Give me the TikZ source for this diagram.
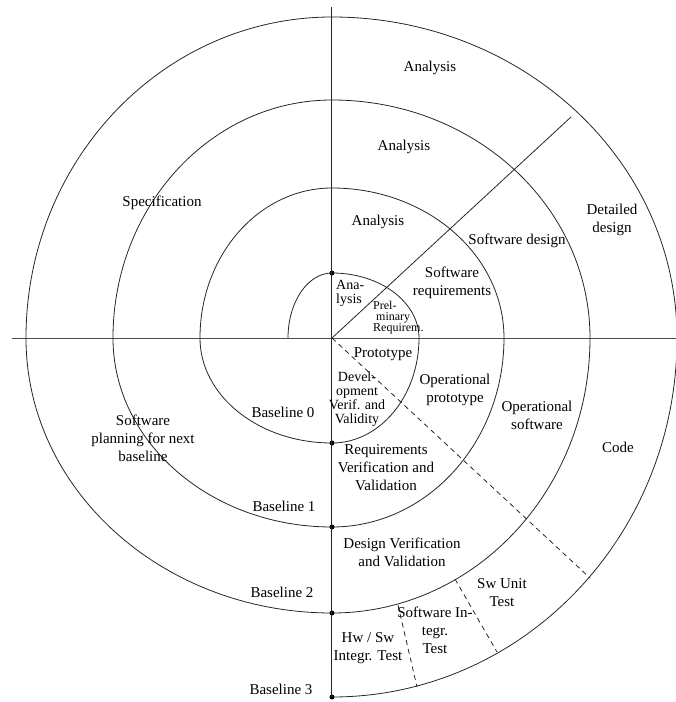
\documentclass[tikz,border=0pt]{standalone}
\usepackage{fontspec}
\setmainfont{Liberation Serif}
\begin{document}
\begin{tikzpicture}[x=1pt,y=1pt,
  line/.style={draw=black!85, line width=0.8pt},
  axisline/.style={draw=black!70, line width=1pt},
  dashline/.style={draw=black!85, line width=0.8pt, dash pattern=on 5pt off 4pt},
  dot/.style={circle, fill=black, inner sep=0pt, minimum size=5pt},
  lbl/.style={font=\fontsize{15}{18}\selectfont, align=center, inner sep=0pt},
  small/.style={font=\fontsize{14}{14}\selectfont, align=center, inner sep=0pt},
  tiny/.style={font=\fontsize{12}{11}\selectfont, align=left, inner sep=0pt}
]
\useasboundingbox (-332,-364) rectangle (344,338);

% axes
\coordinate (O) at (0,0);
\coordinate (west) at (-320,0);
\coordinate (east) at (344,0);
\coordinate (north) at (0,331);
\draw[axisline] (west) -- (east);

% spiral of quarter arcs (left, top, right, bottom radii growing each turn)
\draw[line]
  (-44,0) arc[start angle=180, end angle=90, x radius=44, y radius=65]
          arc[start angle=90, end angle=0, x radius=87, y radius=65]
          arc[start angle=0, end angle=-90, x radius=87, y radius=105]
          arc[start angle=-90, end angle=-180, x radius=132, y radius=105]
          arc[start angle=180, end angle=90, x radius=132, y radius=150]
          arc[start angle=90, end angle=0, x radius=172, y radius=150]
          arc[start angle=0, end angle=-90, x radius=172, y radius=189]
          arc[start angle=-90, end angle=-180, x radius=219, y radius=189]
          arc[start angle=180, end angle=90, x radius=219, y radius=238]
          arc[start angle=90, end angle=0, x radius=258, y radius=238]
          arc[start angle=0, end angle=-90, x radius=258, y radius=275]
          arc[start angle=-90, end angle=-180, x radius=306, y radius=275]
          arc[start angle=180, end angle=90, x radius=306, y radius=321]
          arc[start angle=90, end angle=0, x radius=345, y radius=321]
          arc[start angle=0, end angle=-90, x radius=345, y radius=359];

% baseline points on the vertical axis
\node[dot] (a0) at (0,65) {};
\node[dot] (b0) at (0,-105) {};
\node[dot] (b1) at (0,-189) {};
\node[dot] (b2) at (0,-275) {};
\node[dot] (b3) at (0,-359) {};
\draw[line, line width=1pt] (north) -- (b3.center);

% diagonal separators
\coordinate (ne) at (239,221);
\coordinate (se) at (258,-240);
\draw[line] (O) -- (ne);
\draw[dashline] (O) -- (se);

% test phase separators
\coordinate (t1a) at (66,-267);
\coordinate (t1b) at (85,-349);
\coordinate (t2a) at (123,-241);
\coordinate (t2b) at (165,-314);
\draw[dashline] (t1a) -- (t1b);
\draw[dashline] (t2a) -- (t2b);

% labels
\node[lbl] (an3) at (98,270) {Analysis};
\node[lbl] (an2) at (72,191) {Analysis};
\node[lbl] (an1) at (46,116) {Analysis};
\node[small, align=left, anchor=west] (an0) at (4,45) {Ana-\\lysis};
\node[tiny, anchor=west] (prel) at (41,20) {Prel-\\\ minary\\Requirem.};
\node[lbl] (swreq) at (120,55) {Software\\requirements};
\node[lbl] (swdes) at (185,97) {Software design};
\node[lbl] (detdes) at (280,118) {Detailed\\design};
\node[lbl] (spec) at (-170,135) {Specification};
\node[lbl] (proto) at (51,-16) {Prototype};
\node[small] (devel) at (25,-61) {Devel-\\opment\\Verif. and\\Validity};
\node[lbl] (opproto) at (123,-52) {Operational\\prototype};
\node[lbl] (opsw) at (205,-77) {Operational\\software};
\node[lbl] (code) at (286,-109) {Code};
\node[lbl] (reqvv) at (54,-130) {Requirements\\Verification and\\Validation};
\node[lbl] (desvv) at (70,-214) {Design Verification\\and Validation};
\node[lbl] (bl0) at (-49,-74) {Baseline 0};
\node[lbl] (bl1) at (-48,-168) {Baseline 1};
\node[lbl] (bl2) at (-50,-254) {Baseline 2};
\node[lbl] (bl3) at (-51,-351) {Baseline 3};
\node[lbl] (plan) at (-189,-100) {Software\\planning for next\\baseline};
\node[lbl] (unit) at (170,-255) {Sw Unit\\Test};
\node[lbl] (integ) at (103,-292) {Software In-\\tegr.\\Test};
\node[lbl] (hwsw) at (36,-310) {Hw / Sw\\Integr. Test};
\end{tikzpicture}
\end{document}
